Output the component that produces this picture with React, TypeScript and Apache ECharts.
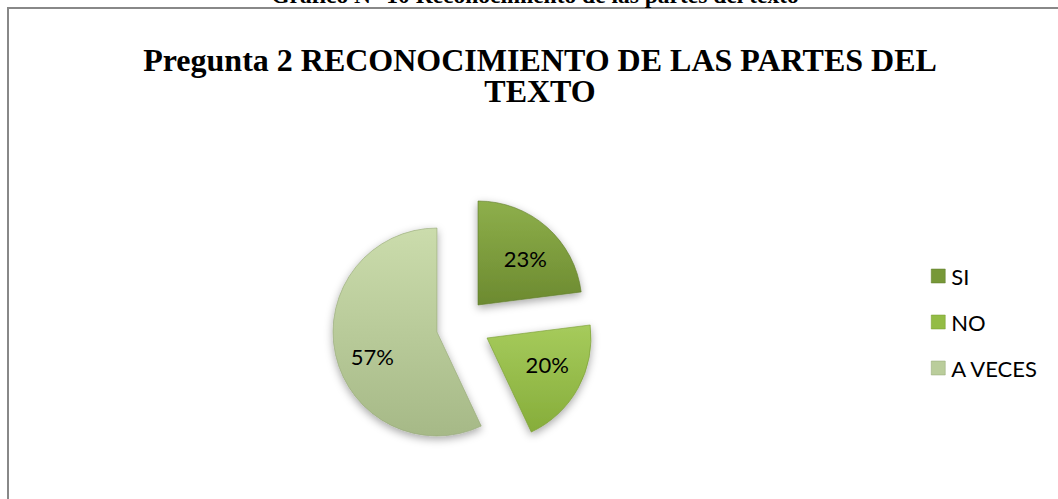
import React, { useEffect, useRef } from "react";
import * as echarts from "echarts";

// ---- data ----
const categories = ["SI", "NO", "A VECES"];
const values = [23, 20, 57];
const chartTitle = "Pregunta 2 RECONOCIMIENTO DE LAS PARTES DEL\nTEXTO";
const captionAbove = "Gráfico N° 10 Reconocimiento de las partes del texto";

// ---- styling / layout (not data) ----
const sliceTop = ["#8EAF4B", "#A6CB5C", "#CBDCAC"];
const sliceBottom = ["#6C8A30", "#86AD3A", "#A6B987"];
const sliceEdge = ["#5E7A28", "#76992F", "#93A676"];
const legendColor = ["#779838", "#93BC45", "#BACD9B"];
// exploded slice vertices (pixel centres of each pie piece)
const sliceCentres: [number, number][] = [
  [478, 305],
  [487, 338],
  [437, 332],
];
const labelOffsets: [number, number][] = [
  [11, -5],
  [12, 0],
  [-11, 13],
];

function grad(i: number) {
  return new echarts.graphic.LinearGradient(0, 0, 0, 1, [
    { offset: 0, color: sliceTop[i] },
    { offset: 1, color: sliceBottom[i] },
  ]);
}

export default function App() {
  const ref = useRef<HTMLDivElement>(null);
  useEffect(() => {
    if (!ref.current) return;
    const chart = echarts.init(ref.current, undefined, { renderer: "svg" });
    const series = categories.map((_, s) => ({
      type: "pie",
      silent: true,
      center: sliceCentres[s],
      radius: 104,
      startAngle: 90,
      clockwise: true,
      avoidLabelOverlap: false,
      labelLine: { show: false },
      data: categories.map((name, i) => {
        const own = i === s;
        return {
          name,
          value: values[i],
          itemStyle: own
            ? {
                color: grad(i),
                borderColor: sliceEdge[i],
                borderWidth: 0.6,
                shadowBlur: 8,
                shadowColor: "rgba(0,0,0,0.35)",
                shadowOffsetY: 3,
              }
            : { color: "rgba(0,0,0,0)", borderWidth: 0 },
          label: own
            ? {
                show: true,
                position: "inside",
                formatter: "{d}%",
                offset: labelOffsets[i],
                fontSize: 22,
                fontFamily: "Lato",
                color: "#000",
              }
            : { show: false },
        };
      }),
    }));
    chart.setOption({
      animation: false,
      backgroundColor: "#ffffff",
      title: {
        text: chartTitle,
        left: 535,
        top: 39,
        textAlign: "center",
        textStyle: {
          fontFamily: "Liberation Serif",
          fontWeight: "bold",
          fontSize: 32,
          lineHeight: 31,
          color: "#000",
        },
      },
      legend: {
        orient: "vertical",
        left: 926,
        top: 260,
        icon: "rect",
        itemWidth: 14,
        itemHeight: 14,
        itemGap: 24,
        selectedMode: false,
        textStyle: { fontFamily: "Lato", fontSize: 22, color: "#000", padding: [0, 0, 0, 1] },
        data: categories.map((name, i) => ({
          name,
          itemStyle: { color: legendColor[i], borderColor: sliceEdge[i], borderWidth: 0.5 },
        })),
      },
      graphic: [
        {
          type: "rect",
          silent: true,
          shape: { x: 8, y: 8, width: 1200, height: 700 },
          style: { fill: "none", stroke: "#888888", lineWidth: 2 },
        },
        {
          type: "text",
          silent: true,
          x: 535,
          y: 7,
          style: {
            text: captionAbove,
            align: "center",
            verticalAlign: "bottom",
            fontFamily: "Liberation Serif",
            fontWeight: "bold",
            fontSize: 23.5,
            fill: "#000",
          },
        },
      ],
      series,
    });
    return () => chart.dispose();
  }, []);
  return (
    <div
      ref={ref}
      style={{ position: "absolute", left: 0, top: 0, width: 1058, height: 499 }}
    />
  );
}
